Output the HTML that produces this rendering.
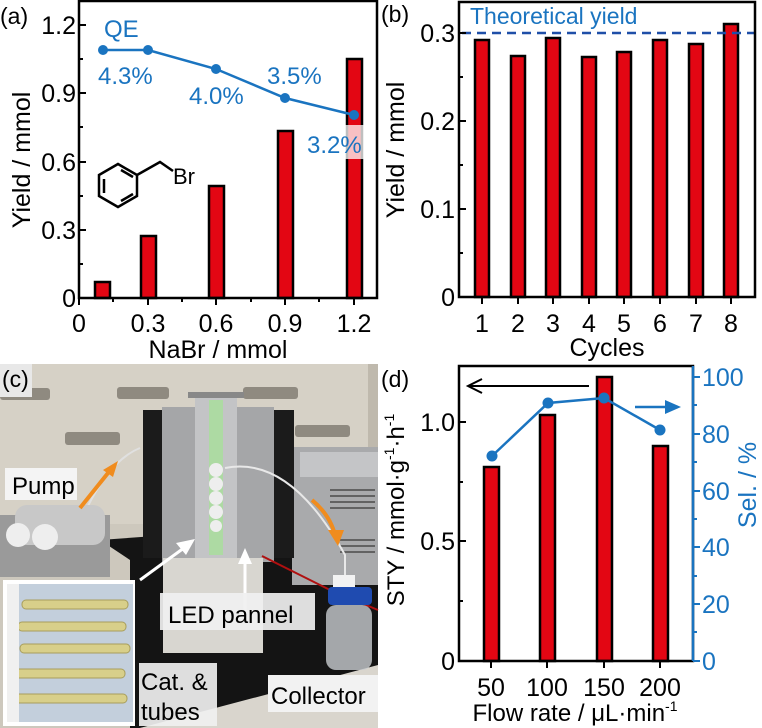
<!DOCTYPE html>
<html><head><style>
body{margin:0;background:#fff}
svg{display:block}
text{font-family:"Liberation Sans",Arial,sans-serif}
</style></head><body>
<svg width="762" height="728" viewBox="0 0 762 728" xmlns="http://www.w3.org/2000/svg">
<!-- ===== Panel (a) ===== -->
<g>
<text x="0" y="24" font-size="23">(a)</text>
<g fill="#e30613" stroke="#000" stroke-width="2.5">
<rect x="95" y="282" width="15" height="16"/>
<rect x="141" y="236" width="15" height="62"/>
<rect x="209" y="186" width="15" height="112"/>
<rect x="278" y="131" width="15" height="167"/>
<rect x="347" y="59" width="15" height="239"/>
</g>
<rect x="306" y="125" width="58" height="34" fill="#fff" opacity="0.75"/>
<rect x="79" y="1" width="298" height="297" fill="none" stroke="#000" stroke-width="2.5"/>
<g stroke="#000" stroke-width="2">
<line x1="79" y1="25" x2="86" y2="25"/><line x1="79" y1="93" x2="86" y2="93"/><line x1="79" y1="162" x2="86" y2="162"/><line x1="79" y1="230" x2="86" y2="230"/>
<line x1="79" y1="59" x2="83" y2="59"/><line x1="79" y1="127" x2="83" y2="127"/><line x1="79" y1="196" x2="83" y2="196"/><line x1="79" y1="264" x2="83" y2="264"/>
<line x1="79" y1="298" x2="79" y2="305"/><line x1="148" y1="298" x2="148" y2="305"/><line x1="216" y1="298" x2="216" y2="305"/><line x1="285" y1="298" x2="285" y2="305"/><line x1="354" y1="298" x2="354" y2="305"/>
<line x1="113" y1="298" x2="113" y2="302"/><line x1="182" y1="298" x2="182" y2="302"/><line x1="251" y1="298" x2="251" y2="302"/><line x1="319" y1="298" x2="319" y2="302"/>
</g>
<g font-size="25" text-anchor="end">
<text x="76" y="34">1.2</text><text x="76" y="102">0.9</text><text x="76" y="171">0.6</text><text x="76" y="239">0.3</text><text x="76" y="307">0</text>
</g>
<g font-size="25" text-anchor="middle">
<text x="79" y="332">0</text><text x="148" y="332">0.3</text><text x="216" y="332">0.6</text><text x="285" y="332">0.9</text><text x="354" y="332">1.2</text>
</g>
<text x="218" y="358" font-size="25" text-anchor="middle">NaBr / mmol</text>
<text transform="translate(30,160) rotate(-90)" font-size="25" text-anchor="middle">Yield / mmol</text>
<polyline points="103,50 148,50 216,69 285,98 354,115" fill="none" stroke="#1a74c0" stroke-width="2.5"/>
<g fill="#1a74c0">
<circle cx="103" cy="50" r="5"/><circle cx="148" cy="50" r="5"/><circle cx="216" cy="69" r="5"/><circle cx="285" cy="98" r="5"/><circle cx="354" cy="115" r="5"/>
</g>
<g font-size="24" fill="#1a74c0">
<text x="104" y="37">QE</text>
<text x="98" y="84">4.3%</text>
<text x="189" y="104">4.0%</text>
<text x="267" y="84">3.5%</text>
<text x="307" y="153">3.2%</text>
</g>
<g fill="none" stroke="#000" stroke-width="2.5">
<polygon points="118,164 137,175 137,196 118,207 99,196 99,175"/>
<line x1="104" y1="179" x2="104" y2="193"/><line x1="121" y1="170" x2="133" y2="177"/><line x1="121" y1="201" x2="133" y2="194"/>
<polyline points="137,175 160,162 173,171"/>
</g>
<text x="173" y="184" font-size="22">Br</text>
</g>

<!-- ===== Panel (b) ===== -->
<g>
<text x="381" y="22" font-size="23">(b)</text>
<g fill="#e30613" stroke="#000" stroke-width="2.5">
<rect x="475" y="40" width="14" height="257"/>
<rect x="511" y="56" width="14" height="241"/>
<rect x="546" y="38" width="14" height="259"/>
<rect x="582" y="57" width="14" height="240"/>
<rect x="617" y="52" width="14" height="245"/>
<rect x="653" y="40" width="14" height="257"/>
<rect x="689" y="44" width="14" height="253"/>
<rect x="724" y="24" width="14" height="273"/>
</g>
<line x1="462" y1="33" x2="754" y2="33" stroke="#1f4fa8" stroke-width="2.5" stroke-dasharray="9,6"/>
<text x="470" y="24" font-size="23" fill="#1a74c0">Theoretical yield</text>
<rect x="459" y="2" width="296" height="295" fill="none" stroke="#000" stroke-width="2.5"/>
<g stroke="#000" stroke-width="2">
<line x1="459" y1="33" x2="466" y2="33"/><line x1="459" y1="121" x2="466" y2="121"/><line x1="459" y1="209" x2="466" y2="209"/>
<line x1="459" y1="77" x2="463" y2="77"/><line x1="459" y1="165" x2="463" y2="165"/><line x1="459" y1="253" x2="463" y2="253"/>
<line x1="482" y1="297" x2="482" y2="304"/><line x1="518" y1="297" x2="518" y2="304"/><line x1="553" y1="297" x2="553" y2="304"/><line x1="589" y1="297" x2="589" y2="304"/><line x1="624" y1="297" x2="624" y2="304"/><line x1="660" y1="297" x2="660" y2="304"/><line x1="696" y1="297" x2="696" y2="304"/><line x1="731" y1="297" x2="731" y2="304"/>
</g>
<g font-size="25" text-anchor="end">
<text x="455" y="42">0.3</text><text x="455" y="130">0.2</text><text x="455" y="218">0.1</text><text x="455" y="306">0</text>
</g>
<g font-size="25" text-anchor="middle">
<text x="482" y="332">1</text><text x="518" y="332">2</text><text x="553" y="332">3</text><text x="589" y="332">4</text><text x="624" y="332">5</text><text x="660" y="332">6</text><text x="696" y="332">7</text><text x="731" y="332">8</text>
</g>
<text x="607" y="356" font-size="25" text-anchor="middle">Cycles</text>
<text transform="translate(404,150) rotate(-90)" font-size="25" text-anchor="middle">Yield / mmol</text>
</g>

<!-- ===== Panel (c) photo ===== -->
<g>
<rect x="0" y="364" width="378" height="364" fill="#cdc8bd"/>
<rect x="0" y="364" width="378" height="160" fill="#d6d1c6"/>
<rect x="368" y="364" width="10" height="150" fill="#bfb9ad"/>
<g fill="#8f8a80">
<rect x="0" y="388" width="50" height="12" rx="3"/><rect x="117" y="387" width="52" height="12" rx="3"/>
<rect x="243" y="387" width="55" height="12" rx="3"/><rect x="65" y="432" width="55" height="13" rx="3"/><rect x="295" y="425" width="55" height="12" rx="3"/>
</g>
<polygon points="100,540 378,520 378,680 140,728 130,728 130,560" fill="#141414"/>
<polygon points="140,728 378,665 378,728" fill="#d9d5cd"/>
<rect x="292" y="447" width="86" height="138" fill="#a9aaac"/>
<rect x="300" y="452" width="78" height="25" fill="#c4c5c7"/>
<g stroke="#4a4a4a" stroke-width="1.5">
<line x1="330" y1="490" x2="375" y2="490"/><line x1="330" y1="496" x2="375" y2="496"/><line x1="330" y1="502" x2="375" y2="502"/><line x1="330" y1="508" x2="375" y2="508"/><line x1="340" y1="540" x2="375" y2="540"/><line x1="340" y1="546" x2="375" y2="546"/><line x1="340" y1="552" x2="375" y2="552"/>
</g>
<rect x="143" y="410" width="22" height="148" fill="#1b1b1b"/>
<rect x="270" y="410" width="24" height="148" fill="#1b1b1b"/>
<rect x="162" y="407" width="112" height="155" fill="#a5a6a8"/>
<rect x="195" y="395" width="42" height="168" fill="#c3c4c6"/>
<rect x="188" y="392" width="56" height="6" fill="#888"/>
<rect x="209" y="400" width="14" height="155" fill="#a8e09a" opacity="0.8"/>
<g fill="#eeeeee"><circle cx="216" cy="470" r="7"/><circle cx="216" cy="484" r="7"/><circle cx="216" cy="498" r="7"/><circle cx="216" cy="512" r="7"/><circle cx="216" cy="526" r="6"/></g>
<path d="M225,468 Q290,455 345,555 L345,575" fill="none" stroke="#e8e8e8" stroke-width="2"/>
<path d="M86,510 Q110,460 140,448" fill="none" stroke="#e0e0e0" stroke-width="2"/>
<rect x="0" y="515" width="110" height="62" fill="#9a9a9a"/>
<rect x="15" y="505" width="90" height="40" rx="12" fill="#c8c8c8"/>
<circle cx="18" cy="535" r="12" fill="#eee"/><circle cx="45" cy="537" r="13" fill="#eee"/>
<rect x="163" y="558" width="100" height="95" fill="#d8d6d0"/>
<path d="M262,556 Q300,575 330,590 L378,610" fill="none" stroke="#b01010" stroke-width="2"/>
<rect x="333" y="575" width="22" height="14" fill="#f2f2f2"/>
<rect x="328" y="587" width="44" height="18" rx="4" fill="#1f4bb0"/>
<rect x="326" y="605" width="46" height="65" rx="10" fill="#c8ccd0" opacity="0.8"/>
<path d="M80,508 L112,468" stroke="#f08c1e" stroke-width="4" fill="none"/>
<polygon points="118,461 103,470 113,477" fill="#f08c1e"/>
<path d="M312,500 Q330,515 335,535" stroke="#f08c1e" stroke-width="4" fill="none"/>
<polygon points="338,546 328,530 344,530" fill="#f08c1e"/>
<path d="M140,580 L188,545" stroke="#fff" stroke-width="3"/>
<polygon points="195,539 176,543 186,555" fill="#fff"/>
<line x1="245" y1="612" x2="245" y2="560" stroke="#fff" stroke-width="3"/>
<polygon points="245,548 238,564 252,564" fill="#fff"/>
<rect x="3" y="580" width="132" height="146" fill="#fff"/>
<rect x="7" y="584" width="126" height="138" fill="#c3cfdc"/>
<g fill="#d8cf8a" stroke="#a89e5c" stroke-width="1">
<rect x="22" y="600" width="106" height="9" rx="4"/><rect x="18" y="622" width="108" height="9" rx="4"/><rect x="20" y="644" width="110" height="9" rx="4"/><rect x="15" y="669" width="110" height="9" rx="4"/><rect x="15" y="694" width="112" height="9" rx="4"/>
</g>
<g fill="#f0f0f0"><rect x="7" y="584" width="12" height="138"/></g>
<rect x="0" y="364" width="32" height="33" fill="#e8e8e8"/>
<text x="2" y="387" font-size="23">(c)</text>
<rect x="5" y="468" width="72" height="32" fill="#f4f4f4"/>
<text x="12" y="494" font-size="24">Pump</text>
<rect x="160" y="593" width="155" height="37" fill="#f0f0f0" opacity="0.92"/>
<text x="168" y="623" font-size="24">LED pannel</text>
<rect x="139" y="663" width="78" height="63" fill="#f0f0f0" opacity="0.92"/>
<text x="141" y="690" font-size="24">Cat. &amp;</text>
<text x="141" y="720" font-size="24">tubes</text>
<rect x="268" y="675" width="110" height="37" fill="#f2f2f2"/>
<text x="271" y="704" font-size="24">Collector</text>
</g>

<!-- ===== Panel (d) ===== -->
<g>
<text x="381" y="387" font-size="23">(d)</text>
<g fill="#e30613" stroke="#000" stroke-width="2.5">
<rect x="484" y="467" width="15" height="194"/>
<rect x="540" y="415" width="15" height="246"/>
<rect x="597" y="377" width="15" height="284"/>
<rect x="653" y="446" width="15" height="215"/>
</g>
<rect x="459" y="366" width="234" height="295" fill="none" stroke="#000" stroke-width="2.5"/>
<line x1="693" y1="366" x2="693" y2="661" stroke="#1a74c0" stroke-width="2.5"/>
<line x1="589" y1="386" x2="470" y2="386" stroke="#000" stroke-width="2"/>
<polyline points="482,379 468,386 482,393" fill="none" stroke="#000" stroke-width="2"/>
<line x1="635" y1="407" x2="678" y2="407" stroke="#1a74c0" stroke-width="2.5"/>
<polygon points="681,407 665,400 665,414" fill="#1a74c0"/>
<polyline points="492,456 548,403 604,398 660,430" fill="none" stroke="#1a74c0" stroke-width="2.5"/>
<g fill="#1a74c0"><circle cx="492" cy="456" r="5.5"/><circle cx="548" cy="403" r="5.5"/><circle cx="604" cy="398" r="5.5"/><circle cx="660" cy="430" r="5.5"/></g>
<g stroke="#000" stroke-width="2">
<line x1="459" y1="422" x2="466" y2="422"/><line x1="459" y1="541" x2="466" y2="541"/>
<line x1="459" y1="482" x2="463" y2="482"/><line x1="459" y1="601" x2="463" y2="601"/>
<line x1="491" y1="661" x2="491" y2="668"/><line x1="547" y1="661" x2="547" y2="668"/><line x1="604" y1="661" x2="604" y2="668"/><line x1="660" y1="661" x2="660" y2="668"/>
</g>
<g stroke="#1a74c0" stroke-width="2">
<line x1="693" y1="377" x2="700" y2="377"/><line x1="693" y1="434" x2="700" y2="434"/><line x1="693" y1="491" x2="700" y2="491"/><line x1="693" y1="547" x2="700" y2="547"/><line x1="693" y1="604" x2="700" y2="604"/><line x1="693" y1="661" x2="700" y2="661"/>
<line x1="693" y1="405" x2="697" y2="405"/><line x1="693" y1="462" x2="697" y2="462"/><line x1="693" y1="519" x2="697" y2="519"/><line x1="693" y1="576" x2="697" y2="576"/><line x1="693" y1="632" x2="697" y2="632"/>
</g>
<g font-size="25" text-anchor="end">
<text x="455" y="431">1.0</text><text x="455" y="550">0.5</text><text x="455" y="670">0</text>
</g>
<g font-size="25" fill="#1a74c0">
<text x="702" y="386">100</text><text x="702" y="443">80</text><text x="702" y="500">60</text><text x="702" y="556">40</text><text x="702" y="613">20</text><text x="702" y="670">0</text>
</g>
<g font-size="25" text-anchor="middle">
<text x="491" y="696">50</text><text x="547" y="696">100</text><text x="604" y="696">150</text><text x="660" y="696">200</text>
</g>
<text x="575" y="721" font-size="24" text-anchor="middle">Flow rate / μL·min<tspan font-size="14" dy="-10">-1</tspan></text>
<text transform="translate(404,510) rotate(-90)" font-size="24" text-anchor="middle">STY / mmol·g<tspan font-size="14" dy="-10">-1</tspan><tspan dy="10">·h</tspan><tspan font-size="14" dy="-10">-1</tspan></text>
<text transform="translate(756,485) rotate(-90)" font-size="25" fill="#1a74c0" text-anchor="middle">Sel. / %</text>
</g>
</svg>
</body></html>
